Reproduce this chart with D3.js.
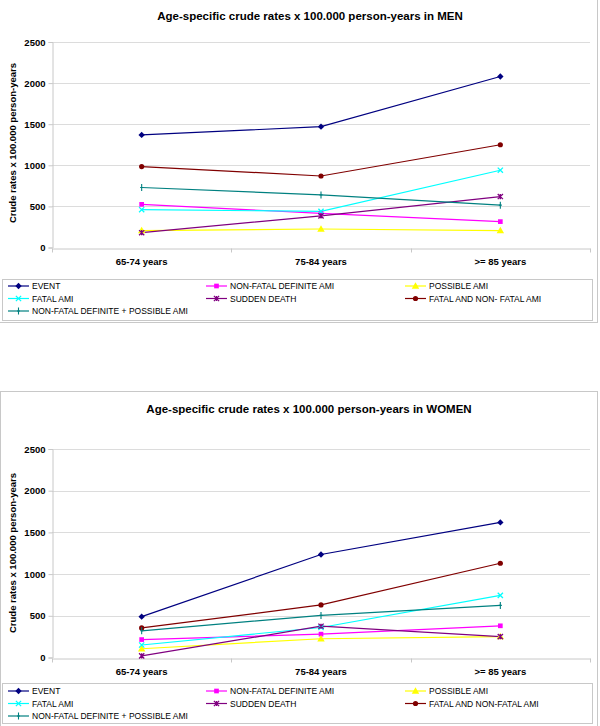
<!DOCTYPE html>
<html>
<head>
<meta charset="utf-8">
<script src="https://cdn.jsdelivr.net/npm/d3@7"></script>
<style>
  html, body { margin: 0; padding: 0; background: #fff; }
  svg { display: block; font-family: "Liberation Sans", Arial, sans-serif; }
</style>
</head>
<body>
<svg id="chart" width="600" height="726"></svg>
<script>
// ---------- DATA ----------
const categories = ["65-74 years", "75-84 years", ">= 85 years"];
const yTicks = [0, 500, 1000, 1500, 2000, 2500];

const seriesKeys = ["event", "nonFatalDef", "possible", "fatal", "sudden", "fatalNonFatal", "nonFatalDefPoss"];
const menLabels = ["EVENT", "NON-FATAL DEFINITE AMI", "POSSIBLE AMI", "FATAL AMI", "SUDDEN DEATH", "FATAL AND NON- FATAL AMI", "NON-FATAL DEFINITE + POSSIBLE AMI"];
const womenLabels = ["EVENT", "NON-FATAL DEFINITE AMI", "POSSIBLE AMI", "FATAL AMI", "SUDDEN DEATH", "FATAL AND NON-FATAL AMI", "NON-FATAL DEFINITE + POSSIBLE AMI"];

const menEvent           = [1370, 1470, 2080];
const menNonFatalDef     = [525, 415, 315];
const menPossible        = [205, 225, 205];
const menFatal           = [460, 440, 940];
const menSudden          = [180, 385, 620];
const menFatalNonFatal   = [985, 870, 1250];
const menNonFatalDefPoss = [730, 640, 515];

const womenEvent           = [490, 1235, 1620];
const womenNonFatalDef     = [215, 280, 380];
const womenPossible        = [105, 225, 250];
const womenFatal           = [150, 360, 745];
const womenSudden          = [20, 375, 250];
const womenFatalNonFatal   = [355, 630, 1130];
const womenNonFatalDefPoss = [320, 505, 625];

const menSeries = [menEvent, menNonFatalDef, menPossible, menFatal, menSudden, menFatalNonFatal, menNonFatalDefPoss];
const womenSeries = [womenEvent, womenNonFatalDef, womenPossible, womenFatal, womenSudden, womenFatalNonFatal, womenNonFatalDefPoss];

// ---------- STYLE ----------
const colors = {
  event: "#000080", nonFatalDef: "#ff00ff", possible: "#ffff00", fatal: "#00ffff",
  sudden: "#800080", fatalNonFatal: "#800000", nonFatalDefPoss: "#008080"
};
const shapes = {
  event: "diamond", nonFatalDef: "square", possible: "triangle", fatal: "x",
  sudden: "star", fatalNonFatal: "circle", nonFatalDefPoss: "plus"
};

const svg = d3.select("#chart");

function drawMarker(g, shape, x, y, color) {
  if (shape === "diamond") {
    const s = 3.2;
    g.append("path").attr("d", `M${x},${y - s}L${x + s},${y}L${x},${y + s}L${x - s},${y}Z`).attr("fill", color);
  } else if (shape === "square") {
    g.append("path").attr("d", d3.symbol(d3.symbolSquare, 22)()).attr("transform", `translate(${x},${y})`).attr("fill", color);
  } else if (shape === "triangle") {
    g.append("path").attr("d", d3.symbol(d3.symbolTriangle, 24)()).attr("transform", `translate(${x},${y + 0.5})`).attr("fill", color);
  } else if (shape === "circle") {
    g.append("circle").attr("cx", x).attr("cy", y).attr("r", 2.6).attr("fill", color);
  } else if (shape === "x") {
    const s = 2.6;
    g.append("path").attr("d", `M${x - s},${y - s}L${x + s},${y + s}M${x - s},${y + s}L${x + s},${y - s}`)
      .attr("stroke", color).attr("stroke-width", 1.3).attr("fill", "none");
  } else if (shape === "star") {
    const s = 2.6;
    g.append("path").attr("d", `M${x - s},${y - s}L${x + s},${y + s}M${x - s},${y + s}L${x + s},${y - s}M${x},${y - s}L${x},${y + s}`)
      .attr("stroke", color).attr("stroke-width", 1.3).attr("fill", "none");
  } else if (shape === "plus") {
    const s = 3.5;
    g.append("path").attr("d", `M${x},${y - s}L${x},${y + s}M${x - 1.5},${y}L${x + 1.5},${y}`)
      .attr("stroke", color).attr("stroke-width", 1.1).attr("fill", "none");
  }
}

function drawChart(cfg) {
  const g = svg.append("g");
  const x = d3.scaleBand().domain(categories).range([52, 590]);
  const y = d3.scaleLinear().domain([0, 2500]).range([cfg.y0, cfg.y2500]);

  // chart border
  g.append("rect").attr("x", cfg.border[0]).attr("y", cfg.border[1])
    .attr("width", cfg.border[2]).attr("height", cfg.border[3])
    .attr("fill", "none").attr("stroke", "#c8c8c8").attr("stroke-width", 1);

  // title
  g.append("text").attr("x", cfg.titleX).attr("y", cfg.titleY).attr("text-anchor", "middle")
    .attr("font-size", "11.5px").attr("font-weight", "bold").attr("fill", "#000").text(cfg.title);

  // gridlines
  g.append("g").selectAll("line").data(yTicks.filter(d => d > 0)).join("line")
    .attr("x1", 52).attr("x2", 590).attr("y1", d => Math.round(y(d)) + 0.5).attr("y2", d => Math.round(y(d)) + 0.5)
    .attr("stroke", "#dcdcdc").attr("stroke-width", 1);

  // y axis
  const ya = g.append("g").attr("transform", "translate(52.5,0)")
    .call(d3.axisLeft(y).tickValues(yTicks).tickSize(4).tickPadding(3).tickFormat(d3.format("d")));
  ya.select(".domain").attr("stroke", "#c8c8c8");
  ya.selectAll(".tick line").attr("stroke", "#c8c8c8");
  ya.selectAll("text").attr("font-size", "9.5px").attr("font-weight", "bold").attr("fill", "#000")
    .attr("font-family", "'Liberation Sans', Arial, sans-serif");

  // x axis
  const xa = g.append("g").attr("transform", `translate(0,${Math.round(cfg.y0) + 0.5})`)
    .call(d3.axisBottom(x).tickSize(0).tickPadding(10));
  xa.select(".domain").attr("stroke", "#c8c8c8");
  xa.selectAll("text").attr("font-size", "9.5px").attr("font-weight", "bold").attr("fill", "#000")
    .attr("font-family", "'Liberation Sans', Arial, sans-serif");
  // category boundary ticks
  const bounds = categories.map(c => x(c)).concat([x(categories[categories.length - 1]) + x.bandwidth()]);
  g.append("g").selectAll("line").data(bounds).join("line")
    .attr("x1", d => Math.round(d) + 0.5).attr("x2", d => Math.round(d) + 0.5)
    .attr("y1", Math.round(cfg.y0) + 0.5).attr("y2", Math.round(cfg.y0) + 4.5)
    .attr("stroke", "#c8c8c8");

  // y axis title
  g.append("text").attr("transform", `translate(16,${cfg.yTitleY}) rotate(-90)`)
    .attr("text-anchor", "middle").attr("font-size", "9.5px").attr("font-weight", "bold").attr("fill", "#000")
    .text("Crude rates x 100.000 person-years");

  // series
  const cx = c => x(c) + x.bandwidth() / 2;
  const line = d3.line().x((d, i) => cx(categories[i])).y(d => y(d));
  seriesKeys.forEach((k, si) => {
    const vals = cfg.series[si];
    g.append("path").datum(vals).attr("d", line).attr("fill", "none")
      .attr("stroke", colors[k]).attr("stroke-width", 1.2);
  });
  seriesKeys.forEach((k, si) => {
    const vals = cfg.series[si];
    vals.forEach((v, i) => drawMarker(g, shapes[k], cx(categories[i]), y(v), colors[k]));
  });

  // legend
  const lg = g.append("g");
  lg.append("rect").attr("x", 2.5).attr("y", cfg.legendTop + 0.5).attr("width", 590).attr("height", cfg.legendH)
    .attr("fill", "#fff").attr("stroke", "#c8c8c8");
  const colX = [8, 206, 405];
  seriesKeys.forEach((k, si) => {
    const col = si % 3, row = Math.floor(si / 3);
    const lx = colX[col], ly = cfg.legendRow0 + row * cfg.legendRowH;
    lg.append("line").attr("x1", lx).attr("x2", lx + 21).attr("y1", ly).attr("y2", ly)
      .attr("stroke", colors[k]).attr("stroke-width", 1.2);
    drawMarker(lg, shapes[k], lx + 10.5, ly, colors[k]);
    lg.append("text").attr("x", lx + 24).attr("y", ly + 3).attr("font-size", "8.5px").attr("fill", "#000")
      .text(cfg.labels[si]);
  });
}

drawChart({
  title: "Age-specific crude rates x 100.000 person-years in MEN",
  titleX: 310, titleY: 19.5,
  y0: 247.5, y2500: 42,
  yTitleY: 143,
  border: [-1.5, -1.5, 599, 324],
  legendTop: 279, legendH: 41, legendRow0: 286, legendRowH: 12.5,
  series: menSeries, labels: menLabels
});

drawChart({
  title: "Age-specific crude rates x 100.000 person-years in WOMEN",
  titleX: 309, titleY: 413,
  y0: 657.5, y2500: 449,
  yTitleY: 553,
  border: [0.5, 391.5, 597, 340],
  legendTop: 683, legendH: 40, legendRow0: 691, legendRowH: 12.5,
  series: womenSeries, labels: womenLabels
});
</script>
</body>
</html>
